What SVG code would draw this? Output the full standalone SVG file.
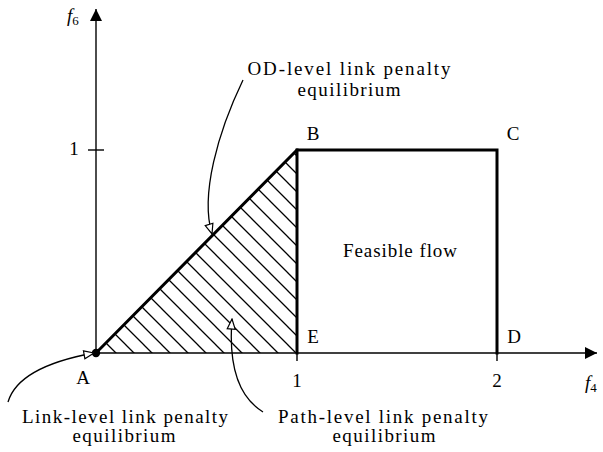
<svg xmlns="http://www.w3.org/2000/svg" width="603" height="452" viewBox="0 0 603 452">
<style>
text{font-family:"Liberation Serif","DejaVu Serif",serif;font-size:19px;fill:#000}
.lbl{text-anchor:middle}
.axis{stroke:#000;stroke-width:1.4;fill:none}
.bold{stroke:#000;stroke-width:3;fill:none;stroke-linejoin:miter;stroke-linecap:square}
.conn{stroke:#000;stroke-width:1.3;fill:none}
</style>
<defs>
<pattern id="hatch" patternUnits="userSpaceOnUse" x="0" y="3" width="18" height="18">
<path d="M-2,-2 L20,20 M-2,16 L2,20 M16,-2 L20,2" stroke="#000" stroke-width="1.3"/>
</pattern>
<marker id="arrF" viewBox="0 0 10 10" refX="10" refY="5" markerWidth="14" markerHeight="12" markerUnits="userSpaceOnUse" orient="auto">
<path d="M0,0 L10,5 L0,10 Z" fill="#000"/>
</marker>
<marker id="arrO" viewBox="0 0 12 10" refX="11" refY="5" markerWidth="12" markerHeight="10" markerUnits="userSpaceOnUse" orient="auto">
<path d="M1,1 L11,5 L1,9 Z" fill="#fff" stroke="#000" stroke-width="1.2"/>
</marker>
</defs>

<g id="hatched-region">
<polygon points="96,353 297,150 297,353" fill="url(#hatch)"/>
</g>

<g id="axes">
<line class="axis" x1="96" y1="353" x2="96" y2="9" marker-end="url(#arrF)"/>
<line class="axis" x1="96" y1="353" x2="597" y2="353" marker-end="url(#arrF)"/>
<line class="axis" x1="88" y1="150" x2="104" y2="150"/>
<line class="axis" x1="297" y1="345" x2="297" y2="361"/>
<line class="axis" x1="497" y1="345" x2="497" y2="361"/>
<text x="67" y="22" font-style="italic">f<tspan font-style="normal" font-size="13" dy="3">6</tspan></text>
<text x="585" y="389" font-style="italic">f<tspan font-style="normal" font-size="13" dy="3">4</tspan></text>
<text class="lbl" x="74" y="155">1</text>
<text class="lbl" x="297" y="387">1</text>
<text class="lbl" x="497" y="387">2</text>
</g>

<g id="feasible-region">
<polyline class="bold" points="96,353 297,150 497,150 497,353"/>
<line class="bold" x1="297" y1="150" x2="297" y2="353"/>
<text x="400" y="257" class="lbl" textLength="114" lengthAdjust="spacing">Feasible flow</text>
</g>

<g id="point-A">
<circle cx="96" cy="353" r="4.2" fill="#000"/>
<text class="lbl" x="83" y="384">A</text>
</g>
<g id="point-B"><text class="lbl" x="313" y="140">B</text></g>
<g id="point-C"><text class="lbl" x="513" y="140">C</text></g>
<g id="point-D"><text class="lbl" x="514" y="343">D</text></g>
<g id="point-E"><text class="lbl" x="313" y="343">E</text></g>

<g id="label-od">
<text class="lbl" x="349" y="75" textLength="203" lengthAdjust="spacing">OD-level link penalty</text>
<text class="lbl" x="349" y="96" textLength="103" lengthAdjust="spacing">equilibrium</text>
</g>
<g id="label-link">
<text class="lbl" x="125" y="423" textLength="206" lengthAdjust="spacing">Link-level link penalty</text>
<text class="lbl" x="124" y="442" textLength="103" lengthAdjust="spacing">equilibrium</text>
</g>
<g id="label-path">
<text class="lbl" x="383" y="423" textLength="210" lengthAdjust="spacing">Path-level link penalty</text>
<text class="lbl" x="384" y="442" textLength="103" lengthAdjust="spacing">equilibrium</text>
</g>

<g id="connectors">
<path class="conn" d="M243,80 C218,132 200,195 212,234" marker-end="url(#arrO)"/>
<path class="conn" d="M263,412 C240,398 228,370 232,319" marker-end="url(#arrO)"/>
<path class="conn" d="M8,402 C16,375 50,361 94,353" marker-end="url(#arrO)"/>
</g>
</svg>
